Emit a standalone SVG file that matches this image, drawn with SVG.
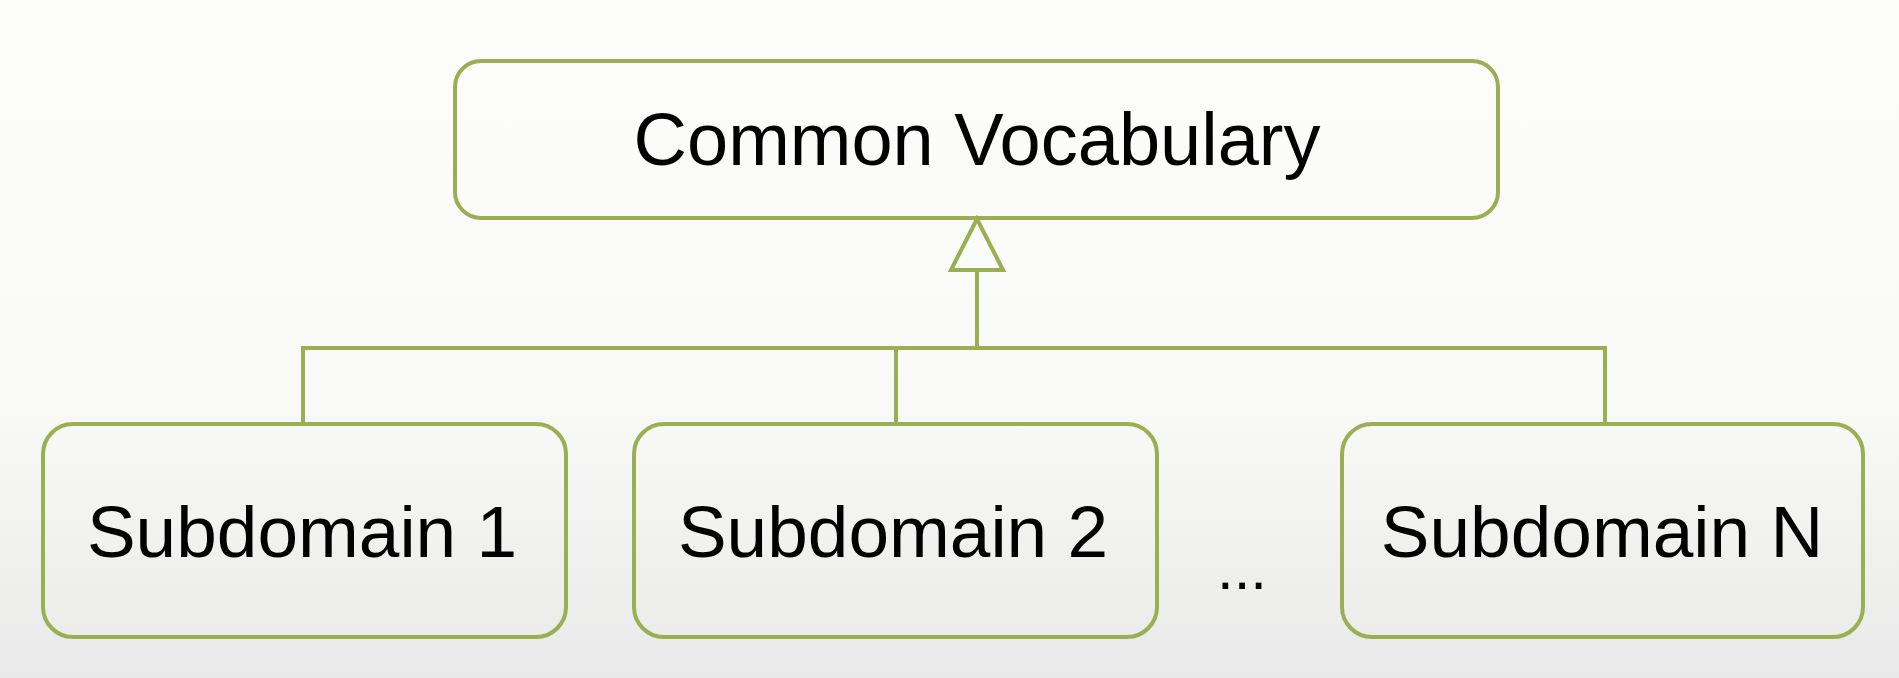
<svg xmlns="http://www.w3.org/2000/svg" width="1899" height="678" viewBox="0 0 1899 678">
<defs>
<linearGradient id="bg" x1="0" y1="0" x2="0" y2="1">
<stop offset="0" stop-color="#fdfdfb"/>
<stop offset="0.6" stop-color="#f9f9f7"/>
<stop offset="1" stop-color="#e9e9e9"/>
</linearGradient>
</defs>
<style>
.box{fill:none;stroke:#9aae52;stroke-width:4}
.ln{fill:none;stroke:#9aae52;stroke-width:4}
.lbl{font-family:"Liberation Sans",Arial,sans-serif;fill:#000;text-anchor:middle}
</style>
<rect x="0" y="0" width="1899" height="678" fill="url(#bg)"/>
<g id="connectors">
<polyline class="ln" points="303,424 303,348 1605,348 1605,424"/>
<line class="ln" x1="896" y1="348" x2="896" y2="424"/>
<line class="ln" x1="977" y1="348" x2="977" y2="270"/>
<polygon class="ln" points="977,219 951,270 1003,270" fill="#fdfdfb"/>
</g>
<g id="common-vocabulary">
<rect class="box" x="455" y="61" width="1043" height="157" rx="26"/>
<text class="lbl" x="977" y="165" font-size="74">Common Vocabulary</text>
</g>
<g id="subdomain-1">
<rect class="box" x="43" y="424" width="523" height="213" rx="30"/>
<text class="lbl" x="302" y="557" font-size="73">Subdomain 1</text>
</g>
<g id="subdomain-2">
<rect class="box" x="634" y="424" width="523" height="213" rx="30"/>
<text class="lbl" x="893" y="557" font-size="73">Subdomain 2</text>
</g>
<g id="ellipsis">
<text class="lbl" x="1242" y="589" font-size="60">...</text>
</g>
<g id="subdomain-n">
<rect class="box" x="1342" y="424" width="521" height="213" rx="30"/>
<text class="lbl" x="1602" y="557" font-size="73">Subdomain N</text>
</g>
</svg>
